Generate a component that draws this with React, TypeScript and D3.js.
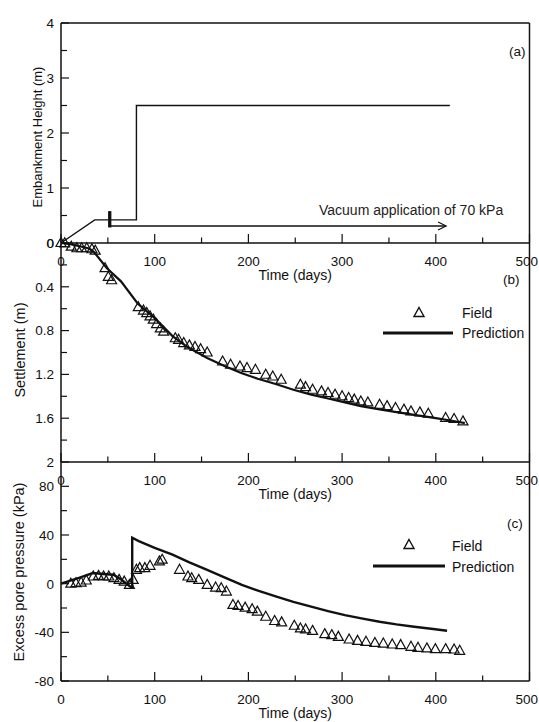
import React from "react";
import * as d3 from "d3";

// ---------- data ----------
const timeTicks = [0, 100, 200, 300, 400, 500];
const timeMinorTicks = [50, 150, 250, 350, 450];

// (a) embankment height [days, m]
const embankment: [number, number][] = [
  [0, 0], [36, 0.42], [80.5, 0.42], [80.5, 2.5], [415, 2.5],
];
const vacuumStartDay = 52;
const vacuumEndDay = 411;
const vacuumLevel = 0.31;
const vacuumBarTop = 0.58;
const vacuumLabel = "Vacuum application of 70 kPa";

// (b) settlement [days, m]
const settlementField: [number, number][] = [
  [0, 0], [4, 0.003], [11, 0.034], [17, 0.048], [22, 0.048], [27.5, 0.048], [33, 0.057], [36.5, 0.07],
  [47, 0.23], [50.5, 0.31], [54, 0.34],
  [82.5, 0.586], [88, 0.617], [91.5, 0.64], [95, 0.67], [98.5, 0.7], [102, 0.74], [106, 0.78], [109.5, 0.81],
  [122, 0.87], [125.5, 0.884], [131, 0.914], [137, 0.935], [143, 0.95], [149, 0.97], [156, 1.0],
  [172.5, 1.082], [181, 1.112], [191, 1.128], [198.5, 1.142], [207.5, 1.158], [218.5, 1.203], [226, 1.219], [235, 1.249],
  [255.5, 1.294], [261, 1.316], [268.5, 1.34], [278, 1.355], [285, 1.37], [292.5, 1.386], [300, 1.4],
  [307, 1.416], [313, 1.43], [320, 1.447], [327.5, 1.456],
  [340, 1.477], [348, 1.49], [357, 1.507], [366, 1.522], [373.5, 1.538], [383, 1.547], [392, 1.559],
  [410.5, 1.598], [419.5, 1.607], [429, 1.629],
];
const settlementPrediction: [number, number][] = [
  [0, 0], [10, 0.01], [20, 0.03], [30, 0.05], [35, 0.08], [49, 0.23], [64, 0.35], [82, 0.555],
  [100, 0.685], [119, 0.85], [135, 0.95], [156, 1.05], [175, 1.125], [193, 1.19], [210, 1.24],
  [230, 1.29], [248, 1.34], [267, 1.385], [285, 1.42], [303, 1.455], [320, 1.49], [340, 1.52],
  [358, 1.545], [377, 1.57], [400, 1.6], [425, 1.635], [431, 1.645],
];

// (c) excess pore pressure [days, kPa]
const poreField: [number, number][] = [
  [10.5, 0], [16, 0.4], [21.5, 0.9], [27, 2.6], [34.5, 5.9], [40, 6.4], [45.5, 5.9], [51, 5.9],
  [56.5, 4.5], [62, 3.1], [67.5, 1.7], [73, -1], [77, 3.1], [80.5, 11.4], [84, 12.8], [89.5, 12.8],
  [95, 14.7], [105, 18.3], [108, 19.7],
  [126.5, 11.4], [135.5, 5.9], [139.5, 4.5], [147, 3.1], [156, -1], [165, -3.2], [171, -3.7], [176.5, -6.5],
  [183.5, -17.5], [189, -18.3], [196.5, -19.7], [204, -21], [209.5, -23], [218.5, -27.2], [228, -30.7], [235.5, -31.8],
  [249, -34.6], [255.5, -36.8], [261, -37.6], [268.5, -38.8], [281.5, -41.5], [289, -42.3], [296, -43.7],
  [307.5, -45.9], [316.5, -47], [325.5, -47.8], [335, -48.7], [344, -49.2], [353.5, -50], [362.5, -50.5],
  [373.5, -51.9], [381, -52.7], [390.5, -53.2], [399.5, -53.8], [410.5, -53.8], [419.5, -54.1], [425.5, -55.2],
];
const porePrediction: [number, number][] = [
  [0, 0], [10, 2.5], [20, 5], [34, 8.7], [45, 8], [56, 7.3], [65, 3], [74, -2.4], [76, -3],
  [76, 37.7], [83, 35], [100, 29.5], [119, 23.8], [137, 17.5], [156, 11.4], [175, 5], [193, -1],
  [211, -6], [230, -10.6], [248, -15], [267, -18.9], [285, -22.5], [303, -25.8], [322, -28.7],
  [340, -31.3], [358, -33.5], [377, -35.4], [395, -37.1], [412, -38.7],
];

const heightTicks = [0, 1, 2, 3, 4];
const heightMinor = [0.5, 1.5, 2.5, 3.5];
const settleTicks = [0, 0.4, 0.8, 1.2, 1.6, 2];
const settleMinor = [0.2, 0.6, 1.0, 1.4, 1.8];
const poreTicks = [-80, -40, 0, 40, 80];
const poreMinor = [-60, -20, 20, 60];

// ---------- layout ----------
const W = 539;
const H = 722;
const LEFT = 61;
const RIGHT = 529.5;
const FONT = "'Liberation Sans', Arial, sans-serif";
const INK = "#111";

const x = d3.scaleLinear().domain([0, 500]).range([LEFT, RIGHT]);
const yA = d3.scaleLinear().domain([0, 4]).range([243, 23]);
const yB = d3.scaleLinear().domain([0, 2]).range([243, 462]);
const yC = d3.scaleLinear().domain([-80, 100]).range([681, 462]);

const triPath = "M0,-5.5L5,3.5L-5,3.5Z";

function fmt(v: number) {
  return String(+v.toFixed(1));
}

function TimeAxis({ y0 }: { y0: number }) {
  const last = timeTicks[timeTicks.length - 1];
  return (
    <g>
      <line x1={LEFT} x2={RIGHT} y1={y0} y2={y0} stroke={INK} strokeWidth={1.5} />
      {timeTicks.map((t) => (
        <line key={"M" + t} x1={x(t)} x2={x(t)} y1={y0} y2={y0 - 9} stroke={INK} strokeWidth={1.2} />
      ))}
      {timeMinorTicks.map((t) => (
        <line key={"m" + t} x1={x(t)} x2={x(t)} y1={y0} y2={y0 - 5.5} stroke={INK} strokeWidth={1.2} />
      ))}
      {timeTicks.map((t) => (
        <text
          key={"l" + t}
          x={t === last ? W - 1 : x(t)}
          y={y0 + 23}
          textAnchor={t === last ? "end" : "middle"}
          fontSize={13.5}
          fontFamily={FONT}
          fill={INK}
        >
          {t}
        </text>
      ))}
      <text x={(LEFT + RIGHT) / 2} y={y0 + 37} textAnchor="middle" fontSize={14} fontFamily={FONT} fill={INK}>
        Time (days)
      </text>
    </g>
  );
}

function YAxis({
  scale,
  ticks,
  minor,
}: {
  scale: d3.ScaleLinear<number, number>;
  ticks: number[];
  minor: number[];
}) {
  return (
    <g>
      {ticks.map((v) => (
        <g key={"t" + v}>
          <line x1={LEFT} x2={LEFT + 8} y1={scale(v)} y2={scale(v)} stroke={INK} strokeWidth={1.2} />
          <text x={54} y={scale(v)} dy="0.36em" textAnchor="end" fontSize={13.5} fontFamily={FONT} fill={INK}>
            {fmt(v)}
          </text>
        </g>
      ))}
      {minor.map((v) => (
        <line key={"m" + v} x1={LEFT} x2={LEFT + 6} y1={scale(v)} y2={scale(v)} stroke={INK} strokeWidth={1.2} />
      ))}
    </g>
  );
}

function YTitle({ text, cx, cy, size }: { text: string; cx: number; cy: number; size: number }) {
  return (
    <text
      transform={`translate(${cx},${cy}) rotate(-90)`}
      textAnchor="middle"
      fontSize={size}
      fontFamily={FONT}
      fill={INK}
    >
      {text}
    </text>
  );
}

export default function App() {
  const lineA = d3.line<[number, number]>().x((d) => x(d[0])).y((d) => yA(d[1]));
  const lineB = d3.line<[number, number]>().x((d) => x(d[0])).y((d) => yB(d[1]));
  const lineC = d3.line<[number, number]>().x((d) => x(d[0])).y((d) => yC(d[1]));

  const arrowX = x(vacuumEndDay);
  const arrowY = yA(vacuumLevel);

  return (
    <svg
      width={W}
      height={H}
      style={{ position: "absolute", left: 0, top: 0, background: "#fff" }}
    >
      <rect x={0} y={0} width={W} height={H} fill="#fff" />

      {/* frame */}
      <line x1={LEFT} x2={LEFT} y1={yA(4)} y2={yC(-80)} stroke={INK} strokeWidth={1.5} />
      <line x1={LEFT} x2={RIGHT} y1={yA(4)} y2={yA(4)} stroke={INK} strokeWidth={1.3} />
      <line x1={RIGHT} x2={RIGHT} y1={yA(4)} y2={yC(-80)} stroke={INK} strokeWidth={1.5} />

      {/* ---- panel (a) ---- */}
      <YAxis scale={yA} ticks={heightTicks} minor={heightMinor} />
      <path d={lineA(embankment) || ""} fill="none" stroke={INK} strokeWidth={1.4} />
      <line
        x1={x(vacuumStartDay)}
        x2={x(vacuumStartDay)}
        y1={yA(vacuumBarTop)}
        y2={yA(vacuumLevel) + 1.5}
        stroke={INK}
        strokeWidth={3.3}
      />
      <line x1={x(vacuumStartDay)} x2={arrowX} y1={arrowY} y2={arrowY} stroke={INK} strokeWidth={1.4} />
      <path
        d={`M${arrowX - 8},${arrowY - 4}L${arrowX},${arrowY}L${arrowX - 8},${arrowY + 4}`}
        fill="none"
        stroke={INK}
        strokeWidth={1.2}
      />
      <text x={319} y={215} fontSize={14} fontFamily={FONT} fill="#222">
        {vacuumLabel}
      </text>
      <text x={509} y={56} fontSize={13.5} fontFamily={FONT} fill={INK}>
        (a)
      </text>
      <YTitle text="Embankment Height (m)" cx={42} cy={137} size={13} />
      <TimeAxis y0={yA(0)} />

      {/* ---- panel (b) ---- */}
      <YAxis scale={yB} ticks={settleTicks} minor={settleMinor} />
      <path d={lineB(settlementPrediction) || ""} fill="none" stroke={INK} strokeWidth={2.2} />
      {settlementField.map((d, i) => (
        <path
          key={"sf" + i}
          d={triPath}
          transform={`translate(${x(d[0])},${yB(d[1])})`}
          fill="none"
          stroke={INK}
          strokeWidth={1.2}
        />
      ))}
      <text x={503} y={284} fontSize={13.5} fontFamily={FONT} fill={INK}>
        (b)
      </text>
      <path d={triPath} transform="translate(419,313)" fill="none" stroke={INK} strokeWidth={1.4} />
      <text x={462} y={318} fontSize={14} fontFamily={FONT} fill={INK}>
        Field
      </text>
      <line x1={383} x2={453} y1={333} y2={333} stroke={INK} strokeWidth={3} />
      <text x={462} y={338} fontSize={14} fontFamily={FONT} fill={INK}>
        Prediction
      </text>
      <YTitle text="Settlement (m)" cx={24.5} cy={350} size={14.5} />
      <TimeAxis y0={yB(2)} />

      {/* ---- panel (c) ---- */}
      <YAxis scale={yC} ticks={poreTicks} minor={poreMinor} />
      <path d={lineC(porePrediction) || ""} fill="none" stroke={INK} strokeWidth={2.4} />
      {poreField.map((d, i) => (
        <path
          key={"pf" + i}
          d={triPath}
          transform={`translate(${x(d[0])},${yC(d[1])})`}
          fill="none"
          stroke={INK}
          strokeWidth={1.2}
        />
      ))}
      <text x={507} y={528} fontSize={13.5} fontFamily={FONT} fill={INK}>
        (c)
      </text>
      <path d={triPath} transform="translate(409,545)" fill="none" stroke={INK} strokeWidth={1.4} />
      <text x={452} y={551} fontSize={14} fontFamily={FONT} fill={INK}>
        Field
      </text>
      <line x1={373} x2={445} y1={566} y2={566} stroke={INK} strokeWidth={3} />
      <text x={452} y={572} fontSize={14} fontFamily={FONT} fill={INK}>
        Prediction
      </text>
      <YTitle text="Excess pore pressure (kPa)" cx={23.5} cy={572} size={14.5} />
      <TimeAxis y0={yC(-80)} />
    </svg>
  );
}
